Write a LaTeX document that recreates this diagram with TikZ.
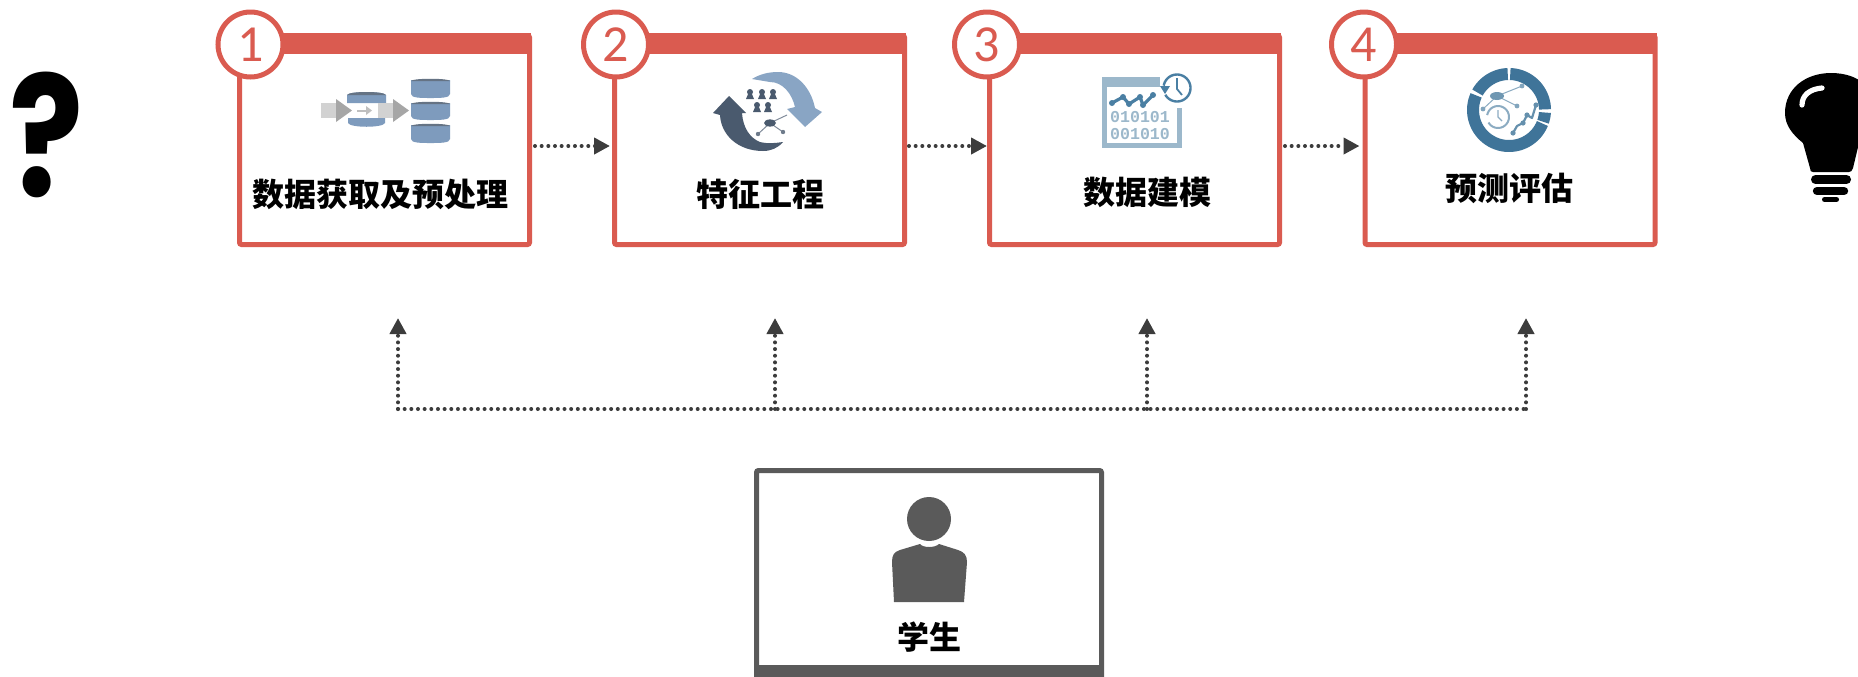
\documentclass[tikz,border=0pt]{standalone}
\usepackage{fontspec}
\usetikzlibrary{arrows.meta}
\setmainfont{Carlito}
\newfontfamily\cjk{Noto Sans CJK SC}
\newfontfamily\qsans[FakeStretch=0.82]{Poppins}
\newfontfamily\lmono{Liberation Mono}
\definecolor{rd}{HTML}{DA5B50}
\definecolor{gy}{HTML}{5A5A5A}
\definecolor{ar}{HTML}{3C3C3C}
\definecolor{dbb}{HTML}{7E9BBD}
\definecolor{dbd}{HTML}{4A5A6E}
\definecolor{lb}{HTML}{89A5C4}
\definecolor{pan}{HTML}{9CB8CB}
\definecolor{clk}{HTML}{4A7FA3}
\definecolor{rng}{HTML}{3F7499}
\tikzset{
  x=.5pt,y=-.5pt,
  stepbox/.style={draw=rd,line width=2.5pt,fill=white,minimum width=145pt,minimum height=104.5pt,rounded corners=1pt,inner sep=0pt},
  numc/.style={circle,draw=rd,line width=2.5pt,fill=white,minimum size=32.5pt,inner sep=0pt,text=rd,font=\fontsize{26}{26}\selectfont},
  lab/.style={inner sep=0pt,font=\cjk\bfseries\fontsize{16}{16}\selectfont,text=black},
  conn/.style={draw=ar,line width=2pt,line cap=round,dash pattern=on 0pt off 3.33pt,-{Triangle[length=8pt,width=8pt,fill=ar]}},
  busl/.style={draw=ar,line width=2pt,line cap=round,dash pattern=on 0pt off 3.33pt},
}
\begin{document}
\begin{tikzpicture}
\useasboundingbox (0,0) rectangle (1858,676);
\clip (0,0) rectangle (1858,676);
% boxes
\node[stepbox] (b1) at (384.5,140) {};
\node[stepbox] (b2) at (759.5,140) {};
\node[stepbox] (b3) at (1134.5,140) {};
\node[stepbox] (b4) at (1510,140) {};
\foreach \b in {b1,b2,b3,b4}{
  \fill[rd] ([xshift=.5pt]\b.north west) rectangle ([xshift=-.5pt,yshift=-10.5pt]\b.north east);
}
\node[numc] (c1) at (250.5,44.5) {1};
\node[numc] (c2) at (616,44.5) {2};
\node[numc] (c3) at (987,44.5) {3};
\node[numc] (c4) at (1364,44.5) {4};
% labels
\node[lab] (l1) at (380,194) {数据获取及预处理};
\node[lab] (l2) at (760,194) {特征工程};
\node[lab] (l3) at (1147,192) {数据建模};
\node[lab] (l4) at (1509,188) {预测评估};
% connectors
\draw[conn] ([xshift=1.5pt,yshift=-3pt]b1.east) -- ([xshift=-1pt,yshift=-3pt]b2.west);
\draw[conn] ([xshift=1pt,yshift=-3pt]b2.east) -- ([xshift=0pt,yshift=-3pt]b3.west);
\draw[conn] ([xshift=1.5pt,yshift=-3pt]b3.east) -- ([xshift=-1.5pt,yshift=-3pt]b4.west);
\coordinate (u1) at (398,318);
\coordinate (u2) at (775,318);
\coordinate (u3) at (1147,318);
\coordinate (u4) at (1526,318);
\coordinate (k1) at (398,409);
\coordinate (k2) at (775,409);
\coordinate (k3) at (1147,409);
\coordinate (k4) at (1526,409);
\draw[busl] (k1) -- (k4);
\draw[conn] (k1) -- (u1);
\draw[conn] (k2) -- (u2);
\draw[conn] (k3) -- (u3);
\draw[conn] (k4) -- (u4);
% student
\node[draw=gy,line width=2.5pt,fill=white,minimum width=172.5pt,minimum height=110pt,rounded corners=1pt,inner sep=0pt] (st) at (929,580.5) {};
\fill[gy] (754,665) rectangle (1104,680);
\node[lab] (sl) at (929,637) {学生};
\fill[gy] (929,519) circle[radius=11pt];
\fill[gy] (894,602) -- (964,602) -- (967,562) .. controls (967,555) and (964,552) .. (958,550) -- (939,544) .. controls (935,548) and (923,548) .. (920,544) -- (900,550) .. controls (894,552) and (892,555) .. (892,562) -- cycle;
% question mark
\node[inner sep=0pt,anchor=base,font=\qsans\bfseries\fontsize{84}{84}\selectfont,text=black] (qm) at (46.5,196) {?};
% bulb
\fill[black] (1803,143) .. controls (1792,134) and (1785,125) .. (1785,113) .. controls (1785,88) and (1806,73) .. (1831,73) .. controls (1860,73) and (1877,90) .. (1877,113) .. controls (1877,125) and (1872,134) .. (1859,143) -- (1853,168) .. controls (1852,171) and (1851,172) .. (1849,172) -- (1813,172) .. controls (1811,172) and (1810,171) .. (1810,168) -- cycle;
\draw[white,line width=2.6pt,line cap=round] (1802,105) .. controls (1802,95) and (1810,89) .. (1822,88);
\draw[black,line width=4.5pt,line cap=round] (1815.5,179.5) -- (1846.5,179.5);
\draw[black,line width=4.2pt,line cap=round] (1817,191) -- (1844,191);
\draw[black,line width=2.5pt,line cap=round] (1824.5,199.5) -- (1836.5,199.5);
% icon 1
\foreach \y/\h in {78/20,101/19,123/20}{
  \fill[dbb] (411,{\y+2}) -- (450,{\y+2}) -- (450,{\y+\h-4}) .. controls (450,{\y+\h}) and (440,{\y+\h}) .. (430.5,{\y+\h}) .. controls (421,{\y+\h}) and (411,{\y+\h}) .. (411,{\y+\h-4}) -- cycle;
  \fill[dbd!85] (411,{\y+3}) .. controls (413,\y) and (448,\y) .. (450,{\y+3}) -- cycle;
}
\fill[dbb] (347,95) .. controls (349,91) and (384,91) .. (386,95) -- (386,103) -- (347,103) -- cycle;
\fill[dbd!85] (347,95) .. controls (349,91) and (384,91) .. (386,95) -- cycle;
\fill[dbb] (348,118) -- (385,118) -- (385,123) .. controls (383,128) and (350,128) .. (348,123) -- cycle;
\foreach \x in {0,57}{
  \fill[gray!35] ({321+\x},103) rectangle ({337+\x},118);
  \foreach \s in {325,330,335}{\fill[white!65!gray] ({\s+\x},103) rectangle ({\s+1.5+\x},118);}
  \fill[gray!70] ({336+\x},99) -- ({352+\x},110.5) -- ({336+\x},122) -- cycle;
}
\fill[gray!50] (357,109.5) rectangle (367,111.5);
\fill[gray!50] (366,106) -- (372,110.5) -- (366,115) -- cycle;
% icon 2
\fill[lb] (752,79) .. controls (760,74) and (769,72) .. (778,72) .. controls (797,72) and (811,88) .. (815,108) -- (822,112) -- (805,127) -- (787,109) -- (795,107) .. controls (792,94) and (783,82) .. (770,82) .. controls (764,81) and (758,80) .. (752,79) -- cycle;
\fill[dbd] (729,96) -- (746,113) -- (742,113) .. controls (743,128) and (750,138) .. (760,142) .. controls (768,144) and (776,143) .. (783,142) .. controls (778,148) and (771,151) .. (763,151) .. controls (738,151) and (721,135) .. (720,115) -- (713,113) -- cycle;
\foreach \x/\y in {750/95,762/95,773/95,757/108,768/108}{
  \fill[dbd] ({\x},{\y-3}) circle[radius=1.5pt];
  \fill[dbd] ({\x-4},{\y+4}) -- ({\x-1.5},{\y-2}) -- ({\x+1.5},{\y-2}) -- ({\x+4},{\y+4}) -- cycle;
}
\draw[dbd!70,line width=.5pt] (758,134) -- (770,123) -- (783,132);
\draw[dbd!70,line width=.5pt] (770,123) -- (787,115);
\fill[dbd] (770,123) ellipse[x radius=3pt,y radius=1.8pt];
\fill[dbd!80] (758,134) circle[radius=1.1pt];
\fill[dbd!80] (783,132) circle[radius=1.1pt];
% icon 3
\fill[pan] (1102,77) rectangle (1160,87);
\fill[pan] (1102,77) rectangle (1107,148);
\fill[pan] (1102,143) rectangle (1182,148);
\fill[pan] (1177,108) rectangle (1182,148);
\draw[clk,line width=1.6pt,line join=round] (1112,103) -- (1123,97) -- (1129,104) -- (1140,97) -- (1143,105) -- (1153,95);
\foreach \x/\y in {1112/103,1123/97,1129/104,1140/97,1143/105,1153/95}{\fill[clk] (\x,\y) circle[radius=1.5pt];}
\node[inner sep=0pt,font=\lmono\bfseries\fontsize{8.3}{8.3}\selectfont,text=pan] (bn1) at (1140,117) {010101};
\node[inner sep=0pt,font=\lmono\bfseries\fontsize{8.3}{8.3}\selectfont,text=pan] (bn2) at (1140,134) {001010};
\fill[white] (1177,88) circle[radius=8pt];
\draw[clk,line width=1.2pt] plot[domain=-150:170,samples=40] ({1177+13.5*cos(\x)},{88-13.5*sin(\x)});
\fill[clk] (1160,86) -- (1170,86) -- (1165,94) -- cycle;
\draw[clk,line width=.9pt] (1177,78) -- (1177,89) -- (1182,95);
% icon 4
\foreach \a/\b in {92/151,156/338,341/356,1/88}{
  \draw[rng,line width=6pt] plot[domain=\a:\b,samples=40] ({1509+36*cos(\x)},{110-36*sin(\x)});
}
\draw[rng!60,line width=.5pt] (1497,96) -- (1522,86);
\draw[rng!60,line width=.5pt] (1497,96) -- (1517,106);
\draw[rng!60,line width=.5pt] (1497,96) -- (1483,109);
\fill[rng!75] (1497,96) ellipse[x radius=3.5pt,y radius=2pt];
\foreach \x/\y in {1522/86,1517/106,1483/109}{\fill[rng!65] (\x,\y) circle[radius=1.2pt];}
\draw[rng!60,line width=1pt] plot[domain=-150:170,samples=30] ({1498+11*cos(\x)},{117-11*sin(\x)});
\draw[rng!60,line width=.6pt] (1498,110) -- (1498,117) -- (1502,121);
\draw[rng!80,line width=1.1pt,line join=round] (1513,133) -- (1517,126) -- (1523,123) -- (1527,115) -- (1532,118) -- (1536,105);
\foreach \x/\y in {1513/133,1523/123,1527/115,1536/105}{\fill[rng!80] (\x,\y) circle[radius=1.3pt];}
\end{tikzpicture}
\end{document}
